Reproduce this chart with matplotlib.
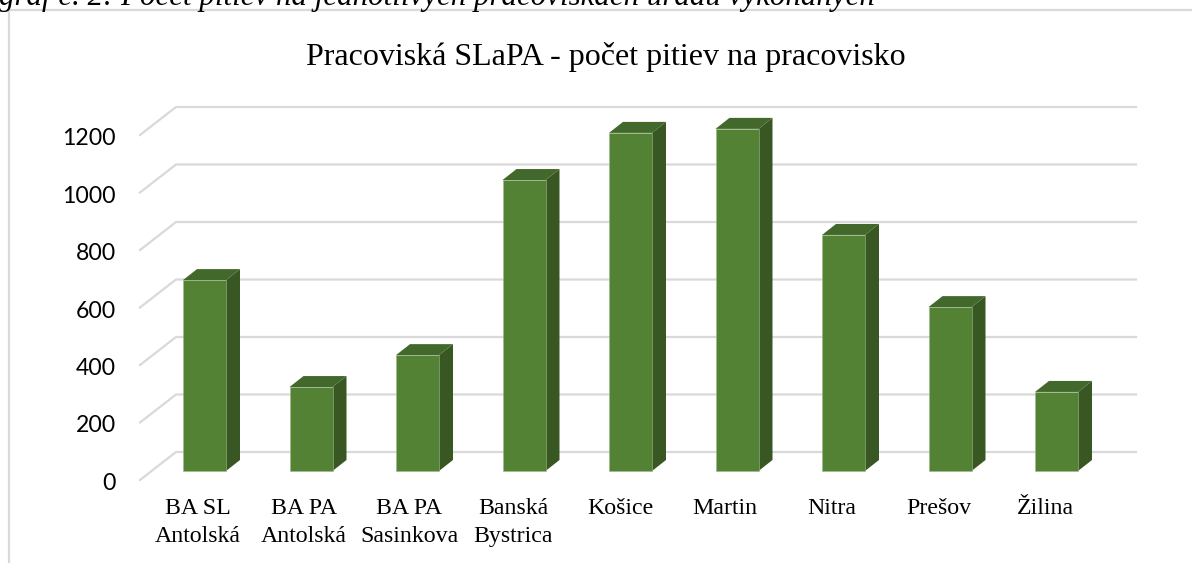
from matplotlib import pyplot as plt
from matplotlib.patches import Polygon

# hodnoty odcitane z grafu
pracoviska = ['BA SL\nAntolská', 'BA PA\nAntolská', 'BA PA\nSasinkova', 'Banská\nBystrica',
              'Košice', 'Martin', 'Nitra', 'Prešov', 'Žilina']
pocet_pitiev = [664, 292, 403, 1012, 1176, 1190, 821, 570, 275]
y_ticks = [0, 200, 400, 600, 800, 1000, 1200]
# popisky nie su presne pod stlpcami (px)
posun_popisku = [-7, -7, -8, -11, -10, -12, -12, -11, -11]

W, H = 1192, 563
# prevod: 1 kategoria = 106.5 px, 200 pitiev = 57.5 px
px_x = 106.5
px_y = 57.5 / 200
x0_px = 204.5
y0_px = 471.0


def dx(px):
    return px / px_x


def dy(px):
    return px / px_y


fig = plt.figure(figsize=(W / 100, H / 100), dpi=100)
ax = fig.add_axes([0, 0, 1, 1])
ax.set_xlim(-x0_px / px_x, (W - x0_px) / px_x)
ax.set_ylim(-(H - y0_px) / px_y, y0_px / px_y)
ax.axis('off')

# mriezka - zadna stena a sikme ciary
grid_col = '#d9d9d9'
for v in y_ticks:
    x_l = dx(176 - x0_px)
    x_r = dx(1136 - x0_px)
    y_b = v + dy(19)
    y_f = v + dy(-9)
    ax.plot([dx(140 - x0_px), x_l, x_r], [y_f, y_b, y_b], color=grid_col, lw=1.6, zorder=1,
            solid_joinstyle='miter')
    ax.text(dx(116 - x0_px), v + dy(-12.5), str(v), ha='right', va='center',
            fontsize=16.6, family='Lato', color='black')

# stlpce
half = dx(21.5)
hl = dx(14)
hv = dy(11)
for i, v in enumerate(pocet_pitiev):
    l, r = i - half, i + half
    ax.add_patch(Polygon([(r, 0), (r + hl, hv), (r + hl, v + hv), (r, v)], fc='#385723', ec='none', zorder=3))
    ax.add_patch(Polygon([(l, v), (l + hl, v + hv), (r + hl, v + hv), (r, v)], fc='#43682b', ec='none', zorder=3))
    ax.bar(i, v, width=2 * half, color='#548235', edgecolor='#9db98c', linewidth=0.4, zorder=4)
    ax.text(i + dx(posun_popisku[i]), dy(-26.5), pracoviska[i], ha='center', va='top', fontsize=17.2,
            family='Liberation Serif', linespacing=1.48)

ax.text(dx(606 - x0_px), dy(471 - 57), 'Pracoviská SLaPA - počet pitiev na pracovisko',
        ha='center', va='center', fontsize=23, family='Liberation Serif')

# ram a nadpis nad nim
ax.plot([dx(9 - x0_px), dx(9 - x0_px), dx(W - x0_px)], [dy(471 - H), dy(471 - 10), dy(471 - 10)],
        color='#d9d9d9', lw=1.6, zorder=2)
ax.text(dx(-1 - x0_px), dy(471 + 3), 'graf č. 2: Počet pitiev na jednotlivých pracoviskách úradu vykonaných',
        ha='left', va='center', fontsize=22.2, style='italic', family='Liberation Serif')

fig.savefig('out.png', dpi=100)
